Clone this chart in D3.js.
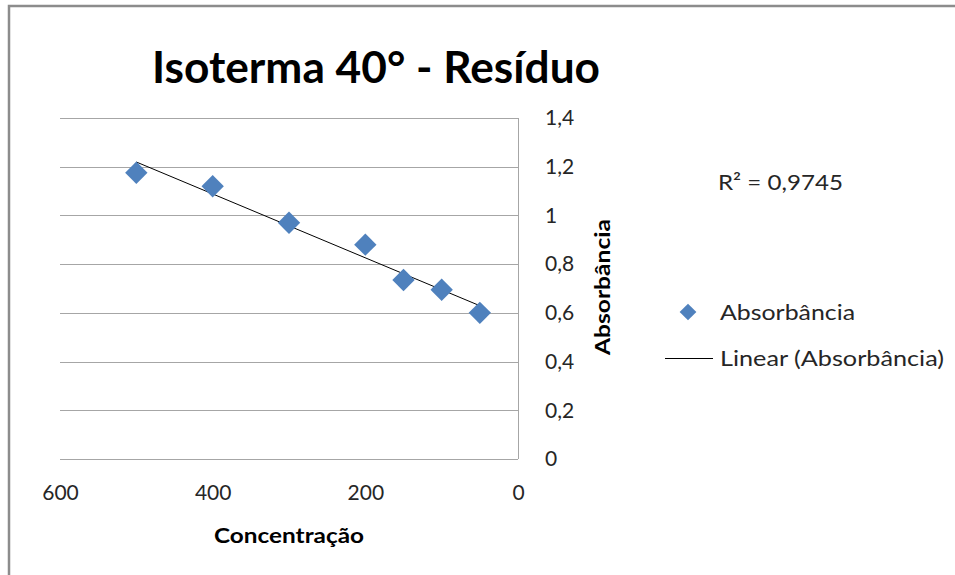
<!DOCTYPE html>
<html>
<head>
<meta charset="utf-8">
<script src="https://cdn.jsdelivr.net/npm/d3@7"></script>
<style>
  body { margin: 0; background: #fff; }
  svg { display: block; font-family: Lato, "Open Sans", sans-serif; }
</style>
</head>
<body>
<div id="chart"></div>
<script>
    // concentração vs absorbância
    const concentracao = [500, 400, 300, 200, 150, 100, 50];
    const absorbancia = [1.175, 1.12, 0.97, 0.88, 0.735, 0.695, 0.60];
    const xTicks = [600, 400, 200, 0];
    const yTicks = [0, 0.2, 0.4, 0.6, 0.8, 1, 1.2, 1.4];
    const r2Label = 'R² = 0,9745';

    const width = 955, height = 575;
    const plotL = 60, plotR = 518, plotT = 118, plotB = 459;
    const blue = '#4f81bd';
    const fmt = d => String(d).replace('.', ',');

    // squeeze/stretch text to the width it has in the original (Calibri is rendered wider there)
    const fit = (sel, w) => sel.attr('textLength', w).attr('lengthAdjust', 'spacingAndGlyphs');

    const svg = d3.select('#chart').append('svg')
      .attr('width', width)
      .attr('height', height);

    // chart frame (only top + left edge visible in the screenshot)
    svg.append('path')
      .attr('d', `M9,${height} V6 H${width}`)
      .attr('fill', 'none')
      .attr('stroke', '#8c8c8c')
      .attr('stroke-width', 2.5);

    const x = d3.scaleLinear().domain([600, 0]).range([plotL, plotR]);
    const y = d3.scaleLinear().domain([0, 1.4]).range([plotB, plotT]);

    // gridlines
    svg.append('g')
      .selectAll('line')
      .data(yTicks)
      .join('line')
      .attr('x1', plotL).attr('x2', plotR)
      .attr('y1', d => Math.round(y(d)) + 0.5)
      .attr('y2', d => Math.round(y(d)) + 0.5)
      .attr('stroke', '#a6a6a6')
      .attr('stroke-width', 1);

    // right axis line
    svg.append('line')
      .attr('x1', plotR + 0.5).attr('x2', plotR + 0.5)
      .attr('y1', plotT).attr('y2', plotB)
      .attr('stroke', '#a6a6a6');

    // y axis (right side)
    const yAxis = svg.append('g')
      .attr('transform', `translate(${plotR},0)`)
      .call(d3.axisRight(y).tickValues(yTicks).tickFormat(fmt).tickSize(0).tickPadding(27));
    yAxis.select('.domain').remove();
    yAxis.selectAll('text')
      .attr('font-family', 'Lato, sans-serif')
      .attr('font-size', 21)
      .attr('fill', '#262626');

    // x axis
    const xAxis = svg.append('g')
      .attr('transform', `translate(0,${plotB})`)
      .call(d3.axisBottom(x).tickValues(xTicks).tickSize(0).tickPadding(26));
    xAxis.select('.domain').remove();
    xAxis.selectAll('text')
      .attr('font-family', 'Lato, sans-serif')
      .attr('font-size', 21)
      .attr('fill', '#262626');

    // linear trendline (least squares)
    const mx = d3.mean(concentracao), my = d3.mean(absorbancia);
    const sxy = d3.sum(concentracao, (c, i) => (c - mx) * (absorbancia[i] - my));
    const sxx = d3.sum(concentracao, c => (c - mx) * (c - mx));
    const slope = sxy / sxx, icpt = my - slope * mx;
    const xr = d3.extent(concentracao);

    svg.append('line')
      .attr('x1', x(xr[1])).attr('y1', y(icpt + slope * xr[1]))
      .attr('x2', x(xr[0])).attr('y2', y(icpt + slope * xr[0]))
      .attr('stroke', '#000')
      .attr('stroke-width', 1);

    // markers
    const diamond = d3.symbol().type(d3.symbolSquare).size(250);
    svg.append('g')
      .selectAll('path')
      .data(concentracao)
      .join('path')
      .attr('d', diamond)
      .attr('transform', (d, i) => `translate(${x(d)},${y(absorbancia[i])}) rotate(45)`)
      .attr('fill', blue);

    // title
    svg.append('text')
      .attr('x', 376).attr('y', 83)
      .attr('text-anchor', 'middle')
      .attr('font-size', 43)
      .attr('font-weight', 'bold')
      .attr('fill', '#000')
      .text('Isoterma 40° - Resíduo')
      .call(fit, 448);

    // axis titles
    svg.append('text')
      .attr('x', 289).attr('y', 543)
      .attr('text-anchor', 'middle')
      .attr('font-size', 21)
      .attr('font-weight', 'bold')
      .text('Concentração')
      .call(fit, 150);

    svg.append('text')
      .attr('transform', 'translate(610,287) rotate(-90)')
      .attr('text-anchor', 'middle')
      .attr('font-size', 21)
      .attr('font-weight', 'bold')
      .text('Absorbância')
      .call(fit, 136);

    // R² label
    svg.append('text')
      .attr('x', 718).attr('y', 190)
      .attr('font-size', 22)
      .attr('fill', '#262626')
      .text(r2Label)
      .call(fit, 125);

    // legend
    const lg = svg.append('g');
    lg.append('path')
      .attr('d', d3.symbol().type(d3.symbolSquare).size(140))
      .attr('transform', 'translate(688,312) rotate(45)')
      .attr('fill', blue);
    lg.append('text')
      .attr('x', 720).attr('y', 320)
      .attr('font-size', 22)
      .attr('fill', '#262626')
      .text('Absorbância')
      .call(fit, 135);
    lg.append('line')
      .attr('x1', 665).attr('x2', 713)
      .attr('y1', 358.5).attr('y2', 358.5)
      .attr('stroke', '#000');
    lg.append('text')
      .attr('x', 720).attr('y', 366)
      .attr('font-size', 22)
      .attr('fill', '#262626')
      .text('Linear (Absorbância)')
      .call(fit, 224);
</script>
</body>
</html>
